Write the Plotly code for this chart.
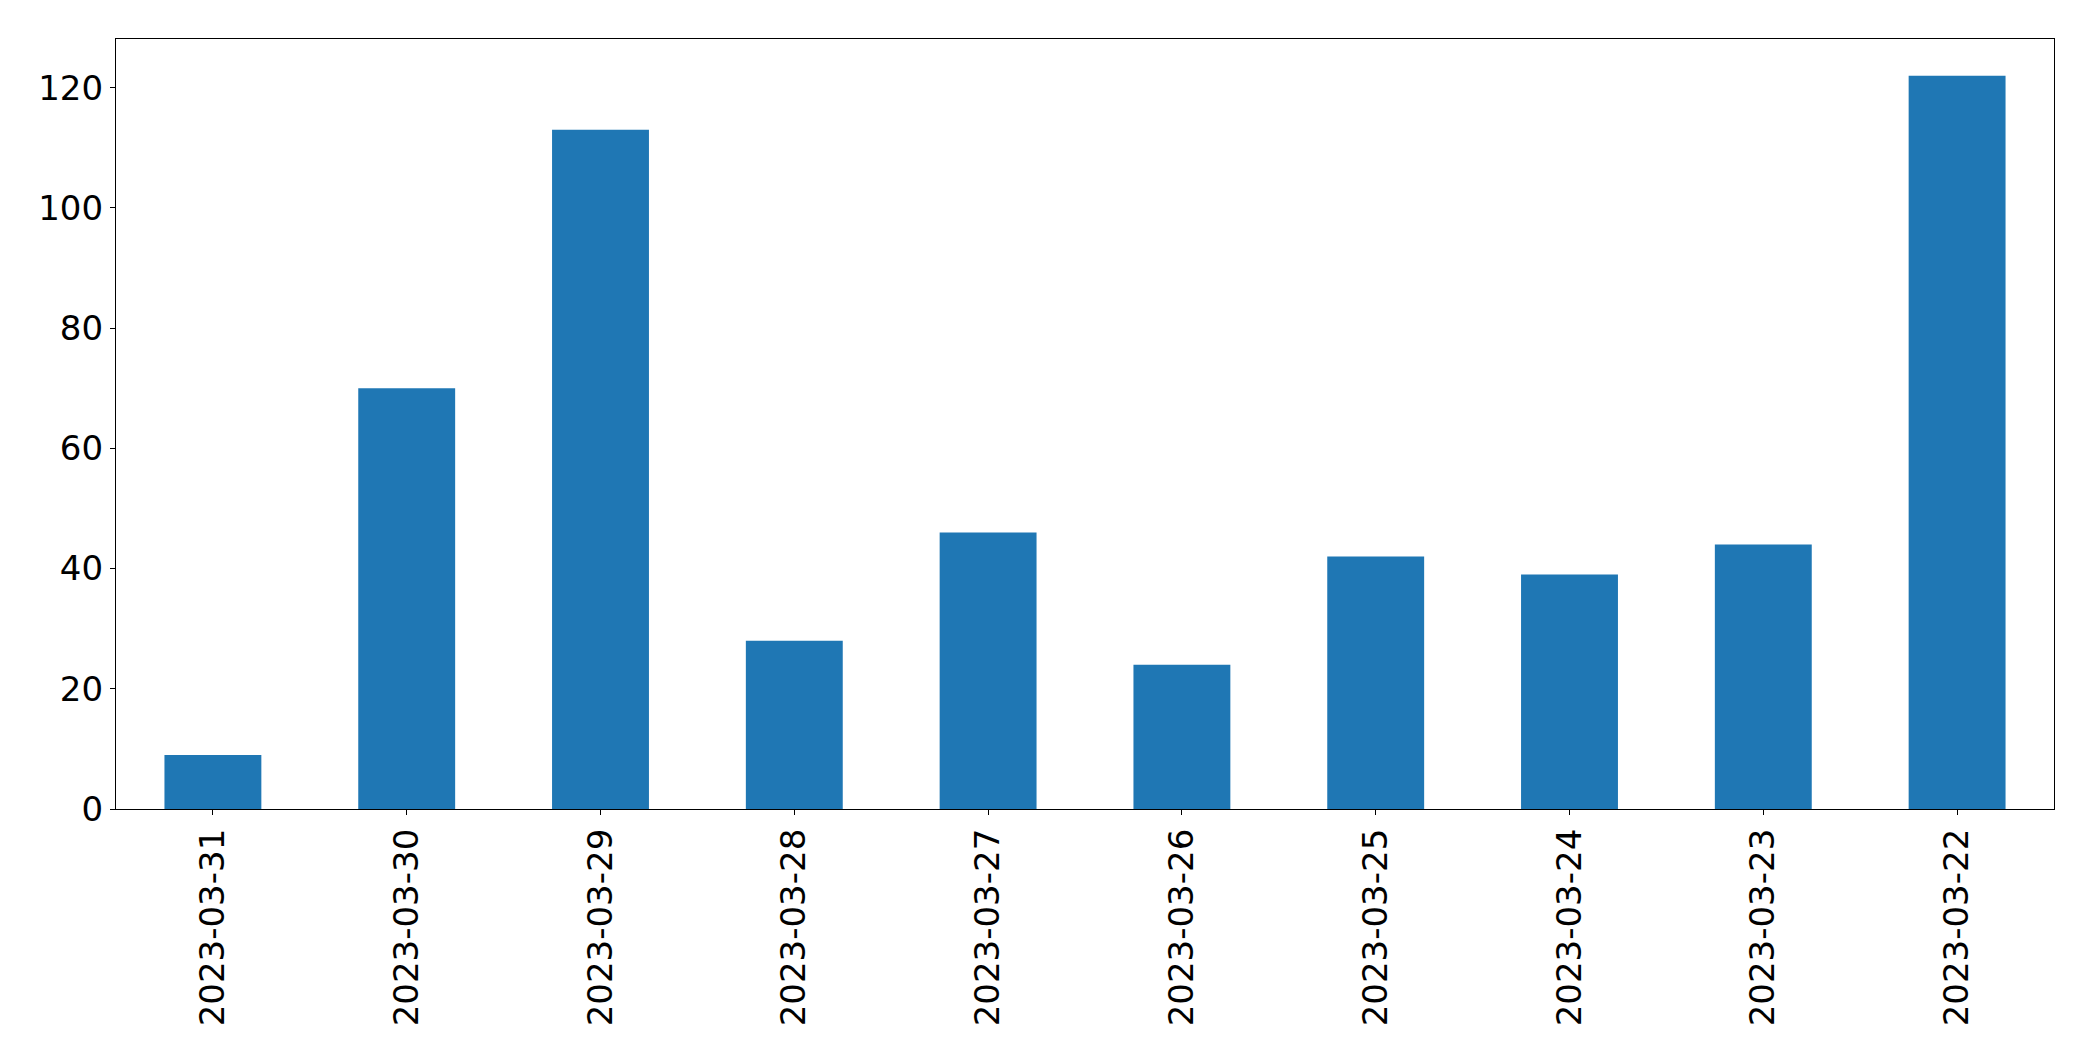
import plotly.graph_objects as go

dates = ["2023-03-31", "2023-03-30", "2023-03-29", "2023-03-28", "2023-03-27",
         "2023-03-26", "2023-03-25", "2023-03-24", "2023-03-23", "2023-03-22"]
counts = [9, 70, 113, 28, 46, 24, 42, 39, 44, 122]
y_ticks = [0, 20, 40, 60, 80, 100, 120]

fig = go.Figure(go.Bar(x=dates, y=counts, marker_color="#1f77b4",
                       marker_line_width=0, width=0.5))

font = dict(family="DejaVu Sans", size=34, color="black")
# page body has an 8px default margin; compensate so the plot area lands at
# x 116..2054, y 39..809 in the 2093x1061 window
fig.update_layout(
    width=2085, height=1053,
    margin=dict(l=108, r=39, t=31, b=252, autoexpand=False),
    paper_bgcolor="white", plot_bgcolor="white",
    font=font, showlegend=False, bargap=0.5,
)
fig.update_xaxes(type="category", range=[-0.5, len(dates) - 0.5], automargin=False,
                 showline=True, linecolor="black", linewidth=1.3, mirror=True,
                 ticks="outside", ticklen=5, tickcolor="black", tickwidth=1.3,
                 tickangle=-90, showgrid=False, tickfont=font)
fig.update_yaxes(range=[0, max(counts) * 1.05], tickvals=y_ticks, automargin=False,
                 showline=True, linecolor="black", linewidth=1.3, mirror=True,
                 ticks="outside", ticklen=5, tickcolor="black", tickwidth=1.3,
                 showgrid=False, zeroline=False, tickfont=font)

fig.write_html("out.html")
